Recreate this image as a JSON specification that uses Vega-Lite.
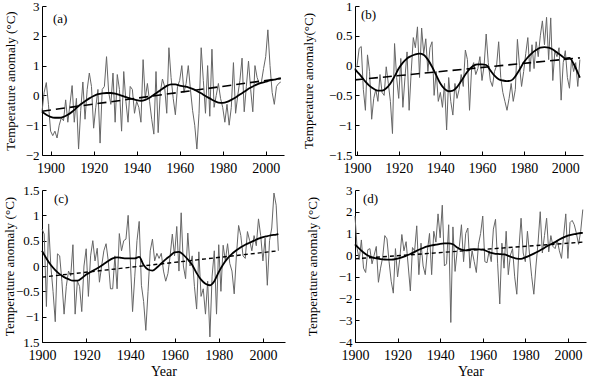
{
  "$schema": "https://vega.github.io/schema/vega-lite/v6.json",
  "padding": {"left": 2, "top": 0, "right": 5, "bottom": 0},
  "bounds": "flush",
  "columns": 2,
  "spacing": {"row": 35, "column": 70},
  "datasets": {
    "a": [
      {"year":1896,"t":-0.55,"s":-0.55,"tr":-0.53},{"year":1897,"t":0.1},{"year":1898,"t":0.43,"s":-0.65},{"year":1899,"t":-0.3},
      {"year":1900,"t":-1.2,"s":-0.72},{"year":1901,"t":-1.35},{"year":1902,"t":-1.2,"s":-0.75},{"year":1903,"t":-1.43},
      {"year":1904,"t":-1.0,"s":-0.75},{"year":1905,"t":-0.75},{"year":1906,"t":-0.85,"s":-0.72},{"year":1907,"t":-0.15},
      {"year":1908,"t":-0.9,"s":-0.65},{"year":1909,"t":-0.3},{"year":1910,"t":0.33,"s":-0.55},{"year":1911,"t":-0.9},
      {"year":1912,"t":-0.1,"s":-0.42},{"year":1913,"t":-1.8},{"year":1914,"t":-0.5,"s":-0.3},{"year":1915,"t":0.45},
      {"year":1916,"t":-0.8,"s":-0.2},{"year":1917,"t":0.2},{"year":1918,"t":0.75,"s":-0.1},{"year":1919,"t":0.3},
      {"year":1920,"t":-1.1,"s":-0.02},{"year":1921,"t":-0.4},{"year":1922,"t":0.2,"s":0.04},{"year":1923,"t":-1.6},
      {"year":1924,"t":0.2,"s":0.07},{"year":1925,"t":0.3},{"year":1926,"t":1.3,"s":0.08},{"year":1927,"t":0.1},
      {"year":1928,"t":-0.3,"s":0.08},{"year":1929,"t":0.75},{"year":1930,"t":-0.9,"s":0.06},{"year":1931,"t":0.7},
      {"year":1932,"t":0.2,"s":0.02},{"year":1933,"t":-1.2},{"year":1934,"t":0.8,"s":-0.03},{"year":1935,"t":-0.2},
      {"year":1936,"t":-0.9,"s":-0.08},{"year":1937,"t":0.3},{"year":1938,"t":0.2,"s":-0.12},{"year":1939,"t":-0.6},
      {"year":1940,"t":-0.2,"s":-0.16},{"year":1941,"t":-0.4},{"year":1942,"t":-0.9,"s":-0.18},{"year":1943,"t":1.2},
      {"year":1944,"t":-0.1,"s":-0.15},{"year":1945,"t":0.4},{"year":1946,"t":-0.2,"s":-0.08},{"year":1947,"t":-0.8},
      {"year":1948,"t":-1.3,"s":0.02},{"year":1949,"t":0.8},{"year":1950,"t":-1.25,"s":0.12},{"year":1951,"t":0.1},
      {"year":1952,"t":0.55,"s":0.22},{"year":1953,"t":0.3},{"year":1954,"t":-0.6,"s":0.32},{"year":1955,"t":1.6},
      {"year":1956,"t":0.6,"s":0.37},{"year":1957,"t":-0.1},{"year":1958,"t":-0.65,"s":0.37},{"year":1959,"t":0.3},
      {"year":1960,"t":0.5,"s":0.33},{"year":1961,"t":1.0},{"year":1962,"t":0.1,"s":0.3},{"year":1963,"t":0.4},
      {"year":1964,"t":1.0,"s":0.27},{"year":1965,"t":0.2},{"year":1966,"t":-0.5,"s":0.22},{"year":1967,"t":-1.0},
      {"year":1968,"t":-1.8,"s":0.15},{"year":1969,"t":-0.6},{"year":1970,"t":1.6,"s":0.07},{"year":1971,"t":0.5},
      {"year":1972,"t":-0.6,"s":-0.02},{"year":1973,"t":1.0},{"year":1974,"t":-0.7,"s":-0.1},{"year":1975,"t":1.55},
      {"year":1976,"t":-0.4,"s":-0.18},{"year":1977,"t":0.0},{"year":1978,"t":0.4,"s":-0.24},{"year":1979,"t":-0.1},
      {"year":1980,"t":-0.4,"s":-0.25},{"year":1981,"t":-0.9},{"year":1982,"t":-0.3,"s":-0.22},{"year":1983,"t":-1.0},
      {"year":1984,"t":-0.4,"s":-0.15},{"year":1985,"t":1.1},{"year":1986,"t":-0.6,"s":-0.07},{"year":1987,"t":0.0},
      {"year":1988,"t":0.5,"s":0.03},{"year":1989,"t":1.25},{"year":1990,"t":-0.55,"s":0.12},{"year":1991,"t":0.3},
      {"year":1992,"t":1.15,"s":0.22},{"year":1993,"t":0.2},{"year":1994,"t":-0.55,"s":0.3},{"year":1995,"t":1.0},
      {"year":1996,"t":0.6,"s":0.37},{"year":1997,"t":0.4},{"year":1998,"t":0.45,"s":0.42},{"year":1999,"t":0.9},
      {"year":2000,"t":1.3,"s":0.46},{"year":2001,"t":2.2},{"year":2002,"t":1.0,"s":0.5},{"year":2003,"t":0.1},
      {"year":2004,"t":-0.3,"s":0.53},{"year":2005,"t":0.3},{"year":2006,"t":0.4,"s":0.56},{"year":2007,"t":0.45,"s":0.57,"tr":0.57}
    ],
    "b": [
      {"year":1899,"t":-0.05,"s":-0.06,"tr":-0.24},
      {"year":1900,"t":0.0,"s":-0.1},{"year":1901,"t":0.29},{"year":1902,"t":0.32,"s":-0.18},{"year":1903,"t":-0.4},
      {"year":1904,"t":-0.75,"s":-0.27},{"year":1905,"t":0.18},{"year":1906,"t":-0.1,"s":-0.34},{"year":1907,"t":-0.9},
      {"year":1908,"t":-0.55,"s":-0.39},{"year":1909,"t":-0.4},{"year":1910,"t":-0.6,"s":-0.42},{"year":1911,"t":-0.15},
      {"year":1912,"t":-0.45,"s":-0.42},{"year":1913,"t":-0.5},{"year":1914,"t":-0.02,"s":-0.38},{"year":1915,"t":-0.3},
      {"year":1916,"t":-0.6,"s":-0.3},{"year":1917,"t":-1.14},{"year":1918,"t":0.37,"s":-0.18},{"year":1919,"t":-0.2},
      {"year":1920,"t":-0.55,"s":-0.05},{"year":1921,"t":0.12},{"year":1922,"t":-0.7,"s":0.05},{"year":1923,"t":-0.2},
      {"year":1924,"t":0.23,"s":0.12},{"year":1925,"t":-0.75},{"year":1926,"t":-0.1,"s":0.16},{"year":1927,"t":0.47},
      {"year":1928,"t":0.3,"s":0.19},{"year":1929,"t":0.65},{"year":1930,"t":-0.2,"s":0.2},{"year":1931,"t":0.63},
      {"year":1932,"t":0.2,"s":0.18},{"year":1933,"t":0.45},{"year":1934,"t":-0.1,"s":0.1},{"year":1935,"t":0.3},
      {"year":1936,"t":0.4,"s":-0.02},{"year":1937,"t":-0.5},{"year":1938,"t":-0.1,"s":-0.16},{"year":1939,"t":-0.6},
      {"year":1940,"t":-0.45,"s":-0.3},{"year":1941,"t":-0.7},{"year":1942,"t":-0.3,"s":-0.39},{"year":1943,"t":-1.08},
      {"year":1944,"t":-0.2,"s":-0.43},{"year":1945,"t":-0.6},{"year":1946,"t":-0.83,"s":-0.42},{"year":1947,"t":-0.3},
      {"year":1948,"t":-0.55,"s":-0.36},{"year":1949,"t":-0.4},{"year":1950,"t":-0.15,"s":-0.26},{"year":1951,"t":-0.35},
      {"year":1952,"t":0.26,"s":-0.15},{"year":1953,"t":0.1},{"year":1954,"t":-0.75,"s":-0.06},{"year":1955,"t":-0.05},
      {"year":1956,"t":0.05,"s":0.0},{"year":1957,"t":-0.15},{"year":1958,"t":-0.05,"s":0.02},{"year":1959,"t":0.15},
      {"year":1960,"t":-0.25,"s":0.02},{"year":1961,"t":0.0},{"year":1962,"t":0.53,"s":0.01},{"year":1963,"t":0.05},
      {"year":1964,"t":-0.25,"s":-0.08},{"year":1965,"t":-0.35},{"year":1966,"t":-0.1,"s":-0.17},{"year":1967,"t":0.0},
      {"year":1968,"t":0.4,"s":-0.23},{"year":1969,"t":-0.2},{"year":1970,"t":-0.45,"s":-0.25},{"year":1971,"t":-0.6},
      {"year":1972,"t":-0.75,"s":-0.26},{"year":1973,"t":-0.55},{"year":1974,"t":-0.3,"s":-0.25},{"year":1975,"t":-0.6},
      {"year":1976,"t":-0.4,"s":-0.18},{"year":1977,"t":0.44},{"year":1978,"t":0.0,"s":-0.07},{"year":1979,"t":-0.35},
      {"year":1980,"t":-0.1,"s":0.05},{"year":1981,"t":0.2},{"year":1982,"t":0.47,"s":0.14},{"year":1983,"t":-0.1},
      {"year":1984,"t":0.35,"s":0.21},{"year":1985,"t":-0.05},{"year":1986,"t":0.4,"s":0.26},{"year":1987,"t":0.15},
      {"year":1988,"t":0.5,"s":0.3},{"year":1989,"t":0.75},{"year":1990,"t":0.35,"s":0.31},{"year":1991,"t":0.81},
      {"year":1992,"t":0.1,"s":0.3},{"year":1993,"t":0.8},{"year":1994,"t":-0.25,"s":0.27},{"year":1995,"t":0.25},
      {"year":1996,"t":0.15,"s":0.22},{"year":1997,"t":0.3},{"year":1998,"t":-0.58,"s":0.17},{"year":1999,"t":0.05},
      {"year":2000,"t":0.25,"s":0.12},{"year":2001,"t":-0.2},{"year":2002,"t":-0.38,"s":0.13},{"year":2003,"t":0.1},
      {"year":2004,"t":-0.1,"s":0.03},{"year":2005,"t":0.05},{"year":2006,"t":-0.35,"s":-0.12},{"year":2007,"t":0.1,"s":-0.2,"tr":0.13}
    ],
    "c": [
      {"year":1900,"t":0.73,"s":0.3,"tr":-0.22},{"year":1901,"t":0.63},{"year":1902,"t":-0.8,"s":0.15},{"year":1903,"t":0.83},
      {"year":1904,"t":0.0,"s":0.02},{"year":1905,"t":-0.5},{"year":1906,"t":-1.1,"s":-0.08},{"year":1907,"t":0.24},
      {"year":1908,"t":0.2,"s":-0.16},{"year":1909,"t":-0.3},{"year":1910,"t":-0.95,"s":-0.22},{"year":1911,"t":-0.4},
      {"year":1912,"t":-0.1,"s":-0.26},{"year":1913,"t":-0.2},{"year":1914,"t":0.42,"s":-0.29},{"year":1915,"t":-0.95},
      {"year":1916,"t":-0.3,"s":-0.29},{"year":1917,"t":-0.4},{"year":1918,"t":-0.9,"s":-0.24},{"year":1919,"t":0.0},
      {"year":1920,"t":0.34,"s":-0.17},{"year":1921,"t":-0.6},{"year":1922,"t":0.2,"s":-0.12},{"year":1923,"t":0.5},
      {"year":1924,"t":0.1,"s":-0.07},{"year":1925,"t":0.35},{"year":1926,"t":-0.32,"s":-0.02},{"year":1927,"t":0.0},
      {"year":1928,"t":0.3,"s":0.04},{"year":1929,"t":0.44},{"year":1930,"t":0.1,"s":0.1},{"year":1931,"t":-0.45},
      {"year":1932,"t":-0.45,"s":0.15},{"year":1933,"t":0.2},{"year":1934,"t":-0.45,"s":0.17},{"year":1935,"t":0.64},
      {"year":1936,"t":0.3,"s":0.16},{"year":1937,"t":0.5},{"year":1938,"t":0.53,"s":0.15},{"year":1939,"t":1.0},
      {"year":1940,"t":0.1,"s":0.15},{"year":1941,"t":-0.9},{"year":1942,"t":-0.2,"s":0.15},{"year":1943,"t":0.5},
      {"year":1944,"t":0.88,"s":0.18},{"year":1945,"t":-0.38},{"year":1946,"t":-0.7,"s":0.02},{"year":1947,"t":-1.27},
      {"year":1948,"t":-0.5,"s":-0.07},{"year":1949,"t":0.3},{"year":1950,"t":0.53,"s":-0.09},{"year":1951,"t":0.1},
      {"year":1952,"t":0.25,"s":-0.03},{"year":1953,"t":0.15},{"year":1954,"t":0.25,"s":0.05},{"year":1955,"t":-0.1},
      {"year":1956,"t":-0.3,"s":0.13},{"year":1957,"t":-0.15},{"year":1958,"t":0.2,"s":0.2},{"year":1959,"t":0.63},
      {"year":1960,"t":0.2,"s":0.27},{"year":1961,"t":0.78},{"year":1962,"t":-0.1,"s":0.28},{"year":1963,"t":1.05},
      {"year":1964,"t":0.0,"s":0.22},{"year":1965,"t":-0.25},{"year":1966,"t":0.65,"s":0.13},{"year":1967,"t":0.0},
      {"year":1968,"t":0.2,"s":0.02},{"year":1969,"t":-0.4},{"year":1970,"t":-0.85,"s":-0.14},{"year":1971,"t":0.28},
      {"year":1972,"t":-0.6,"s":-0.27},{"year":1973,"t":-0.45},{"year":1974,"t":-0.95,"s":-0.35},{"year":1975,"t":-0.3},
      {"year":1976,"t":-1.4,"s":-0.38},{"year":1977,"t":-0.2},{"year":1978,"t":0.3,"s":-0.3},{"year":1979,"t":-0.95},
      {"year":1980,"t":0.42,"s":-0.12},{"year":1981,"t":-0.5},{"year":1982,"t":0.41,"s":0.03},{"year":1983,"t":0.1},
      {"year":1984,"t":0.44,"s":0.15},{"year":1985,"t":0.05},{"year":1986,"t":-0.1,"s":0.24},{"year":1987,"t":-0.55},
      {"year":1988,"t":0.2,"s":0.31},{"year":1989,"t":0.8},{"year":1990,"t":0.6,"s":0.37},{"year":1991,"t":0.2},
      {"year":1992,"t":0.15,"s":0.42},{"year":1993,"t":0.68},{"year":1994,"t":0.5,"s":0.46},{"year":1995,"t":0.3},
      {"year":1996,"t":0.6,"s":0.5},{"year":1997,"t":0.4},{"year":1998,"t":0.93,"s":0.54},{"year":1999,"t":0.6},
      {"year":2000,"t":0.1,"s":0.57},{"year":2001,"t":0.55},{"year":2002,"t":-0.38,"s":0.59},{"year":2003,"t":0.5},
      {"year":2004,"t":0.75,"s":0.61},{"year":2005,"t":1.44},{"year":2006,"t":1.2,"s":0.62},{"year":2007,"t":0.3,"s":0.63,"tr":0.3}
    ],
    "d": [
      {"year":1900,"t":1.8,"s":0.5,"tr":-0.17},{"year":1901,"t":0.3},{"year":1902,"t":-0.2,"s":0.3},{"year":1903,"t":0.7},
      {"year":1904,"t":-0.6,"s":0.12},{"year":1905,"t":-0.8},{"year":1906,"t":0.25,"s":-0.02},{"year":1907,"t":0.3},
      {"year":1908,"t":-0.4,"s":-0.1},{"year":1909,"t":0.0},{"year":1910,"t":0.4,"s":-0.15},{"year":1911,"t":-1.25},
      {"year":1912,"t":-0.6,"s":-0.18},{"year":1913,"t":-0.1},{"year":1914,"t":0.9,"s":-0.2},{"year":1915,"t":0.75},
      {"year":1916,"t":-0.3,"s":-0.21},{"year":1917,"t":-1.2},{"year":1918,"t":-1.75,"s":-0.2},{"year":1919,"t":0.3},
      {"year":1920,"t":-1.0,"s":-0.16},{"year":1921,"t":-0.2},{"year":1922,"t":0.95,"s":-0.1},{"year":1923,"t":0.2},
      {"year":1924,"t":0.62,"s":-0.03},{"year":1925,"t":-0.5},{"year":1926,"t":-1.65,"s":0.05},{"year":1927,"t":0.35},
      {"year":1928,"t":0.2,"s":0.15},{"year":1929,"t":1.35},{"year":1930,"t":-0.9,"s":0.25},{"year":1931,"t":0.55},
      {"year":1932,"t":-0.5,"s":0.33},{"year":1933,"t":-0.9},{"year":1934,"t":0.2,"s":0.4},{"year":1935,"t":1.0},
      {"year":1936,"t":-0.9,"s":0.45},{"year":1937,"t":1.1},{"year":1938,"t":0.6,"s":0.48},{"year":1939,"t":1.9},
      {"year":1940,"t":0.8,"s":0.52},{"year":1941,"t":2.3},{"year":1942,"t":-0.5,"s":0.54},{"year":1943,"t":-0.4},
      {"year":1944,"t":1.4,"s":0.54},{"year":1945,"t":-3.1},{"year":1946,"t":1.3,"s":0.5},{"year":1947,"t":-0.75},
      {"year":1948,"t":0.2,"s":0.35},{"year":1949,"t":0.4},{"year":1950,"t":1.4,"s":0.25},{"year":1951,"t":-0.3},
      {"year":1952,"t":1.0,"s":0.22},{"year":1953,"t":1.25},{"year":1954,"t":-0.6,"s":0.26},{"year":1955,"t":0.2},
      {"year":1956,"t":-0.3,"s":0.28},{"year":1957,"t":-0.8},{"year":1958,"t":0.5,"s":0.27},{"year":1959,"t":1.0},
      {"year":1960,"t":1.8,"s":0.25},{"year":1961,"t":-0.3},{"year":1962,"t":-0.35,"s":0.18},{"year":1963,"t":0.2},
      {"year":1964,"t":-0.3,"s":0.1},{"year":1965,"t":1.2},{"year":1966,"t":1.65,"s":0.06},{"year":1967,"t":-0.4},
      {"year":1968,"t":-2.25,"s":0.05},{"year":1969,"t":0.55},{"year":1970,"t":-0.6,"s":0.03},{"year":1971,"t":1.1},
      {"year":1972,"t":-0.9,"s":-0.03},{"year":1973,"t":0.0},{"year":1974,"t":0.3,"s":-0.1},{"year":1975,"t":-1.0},
      {"year":1976,"t":-1.8,"s":-0.16},{"year":1977,"t":0.3},{"year":1978,"t":1.7,"s":-0.17},{"year":1979,"t":0.1},
      {"year":1980,"t":-0.3,"s":-0.1},{"year":1981,"t":1.1},{"year":1982,"t":0.0,"s":-0.02},{"year":1983,"t":-1.0},
      {"year":1984,"t":-1.8,"s":0.07},{"year":1985,"t":-0.5},{"year":1986,"t":0.6,"s":0.17},{"year":1987,"t":2.0},
      {"year":1988,"t":0.1,"s":0.28},{"year":1989,"t":0.9},{"year":1990,"t":1.7,"s":0.4},{"year":1991,"t":0.15},
      {"year":1992,"t":0.9,"s":0.5},{"year":1993,"t":0.4},{"year":1994,"t":0.3,"s":0.6},{"year":1995,"t":0.7},
      {"year":1996,"t":0.2,"s":0.72},{"year":1997,"t":-0.15},{"year":1998,"t":0.9,"s":0.82},{"year":1999,"t":1.9},
      {"year":2000,"t":-0.15,"s":0.9},{"year":2001,"t":1.5},{"year":2002,"t":1.6,"s":0.95},{"year":2003,"t":1.4},
      {"year":2004,"t":1.0,"s":0.98},{"year":2005,"t":0.5},{"year":2006,"t":1.1,"s":1.02},{"year":2007,"t":2.1,"s":1.03,"tr":0.6}
    ]
  },
  "concat": [
    {
      "width": 242, "height": 149,
      "data": {"name": "a"},
      "title": {"text": "(a)", "dx": 11, "dy": 30},
      "encoding": {
        "x": {"field": "year", "type": "quantitative", "scale": {"domain": [1896, 2008.5], "nice": false, "zero": false},
              "axis": {"values": [1900,1920,1940,1960,1980,2000], "format": "d", "title": null}},
        "y": {"field": "value", "type": "quantitative", "scale": {"domain": [-2, 3], "nice": false, "zero": false},
              "axis": {"values": [-2,-1,0,1,2,3], "format": ".1~f", "title": "Temperature anomaly (°C)", "titleX": -25}}
      },
      "layer": [
        {"transform": [{"fold": ["t","s","tr"]}, {"filter": "datum.key == 't' && isValid(datum.value)"}],
         "mark": {"type": "line", "color": "#666666", "strokeWidth": 1}},
        {"transform": [{"fold": ["t","s","tr"]}, {"filter": "datum.key == 's' && isValid(datum.value)"}],
         "mark": {"type": "line", "color": "#000000", "strokeWidth": 1.8, "interpolate": "monotone"}},
        {"transform": [{"fold": ["t","s","tr"]}, {"filter": "datum.key == 'tr' && isValid(datum.value)"}],
         "mark": {"type": "line", "color": "#000000", "strokeWidth": 1.6, "strokeDash": [9, 5]}}
      ]
    },
    {
      "width": 228, "height": 149,
      "data": {"name": "b"},
      "title": {"text": "(b)", "dx": 6, "dy": 26},
      "encoding": {
        "x": {"field": "year", "type": "quantitative", "scale": {"domain": [1899, 2008.5], "nice": false, "zero": false},
              "axis": {"values": [1900,1920,1940,1960,1980,2000], "format": "d", "title": null}},
        "y": {"field": "value", "type": "quantitative", "scale": {"domain": [-1.5, 1], "nice": false, "zero": false},
              "axis": {"values": [-1.5,-1,-0.5,0,0.5,1], "format": ".1~f", "title": "Temperature anomaly(°C)", "titleX": -40}}
      },
      "layer": [
        {"transform": [{"fold": ["t","s","tr"]}, {"filter": "datum.key == 't' && isValid(datum.value)"}],
         "mark": {"type": "line", "color": "#666666", "strokeWidth": 1}},
        {"transform": [{"fold": ["t","s","tr"]}, {"filter": "datum.key == 's' && isValid(datum.value)"}],
         "mark": {"type": "line", "color": "#000000", "strokeWidth": 1.8, "interpolate": "monotone"}},
        {"transform": [{"fold": ["t","s","tr"]}, {"filter": "datum.key == 'tr' && isValid(datum.value)"}],
         "mark": {"type": "line", "color": "#000000", "strokeWidth": 1.6, "strokeDash": [9, 5]}}
      ]
    },
    {
      "width": 243, "height": 152,
      "data": {"name": "c"},
      "title": {"text": "(c)", "dx": 12, "dy": 26},
      "encoding": {
        "x": {"field": "year", "type": "quantitative", "scale": {"domain": [1900, 2010], "nice": false, "zero": false},
              "axis": {"values": [1900,1920,1940,1960,1980,2000], "format": "d", "title": "Year"}},
        "y": {"field": "value", "type": "quantitative", "scale": {"domain": [-1.5, 1.5], "nice": false, "zero": false},
              "axis": {"values": [-1.5,-1,-0.5,0,0.5,1,1.5], "format": ".1~f", "labelExpr": "datum.value == -1.5 ? '1.5' : datum.label", "title": "Temperature anomaly (°C)", "titleX": -26}}
      },
      "layer": [
        {"transform": [{"fold": ["t","s","tr"]}, {"filter": "datum.key == 't' && isValid(datum.value)"}],
         "mark": {"type": "line", "color": "#666666", "strokeWidth": 1}},
        {"transform": [{"fold": ["t","s","tr"]}, {"filter": "datum.key == 's' && isValid(datum.value)"}],
         "mark": {"type": "line", "color": "#000000", "strokeWidth": 1.8, "interpolate": "monotone"}},
        {"transform": [{"fold": ["t","s","tr"]}, {"filter": "datum.key == 'tr' && isValid(datum.value)"}],
         "mark": {"type": "line", "color": "#000000", "strokeWidth": 1.4, "strokeDash": [4, 3]}}
      ]
    },
    {
      "width": 231, "height": 152,
      "data": {"name": "d"},
      "title": {"text": "(d)", "dx": 8, "dy": 26},
      "encoding": {
        "x": {"field": "year", "type": "quantitative", "scale": {"domain": [1900, 2008.5], "nice": false, "zero": false},
              "axis": {"values": [1900,1920,1940,1960,1980,2000], "format": "d", "title": "Year"}},
        "y": {"field": "value", "type": "quantitative", "scale": {"domain": [-4, 3], "nice": false, "zero": false},
              "axis": {"values": [-4,-3,-2,-1,0,1,2,3], "format": ".1~f", "title": "Temperature anomaly (°C)", "titleX": -36}}
      },
      "layer": [
        {"transform": [{"fold": ["t","s","tr"]}, {"filter": "datum.key == 't' && isValid(datum.value)"}],
         "mark": {"type": "line", "color": "#666666", "strokeWidth": 1}},
        {"transform": [{"fold": ["t","s","tr"]}, {"filter": "datum.key == 's' && isValid(datum.value)"}],
         "mark": {"type": "line", "color": "#000000", "strokeWidth": 1.8, "interpolate": "monotone"}},
        {"transform": [{"fold": ["t","s","tr"]}, {"filter": "datum.key == 'tr' && isValid(datum.value)"}],
         "mark": {"type": "line", "color": "#000000", "strokeWidth": 1.4, "strokeDash": [4, 3]}}
      ]
    }
  ],
  "config": {
    "view": {"stroke": null},
    "title": {"anchor": "start", "frame": "group", "font": "Liberation Serif", "fontSize": 13, "fontWeight": "normal", "color": "#000000", "offset": 0},
    "axis": {
      "grid": false, "domainColor": "#000000", "tickColor": "#000000", "labelColor": "#000000", "titleColor": "#000000",
      "labelFont": "Liberation Serif", "titleFont": "Liberation Serif", "labelFontSize": 13, "titleFontSize": 13,
      "titleFontWeight": "normal", "tickSize": -4, "labelPadding": 7, "labelFlush": false, "labelOverlap": false,
      "domainWidth": 1, "tickWidth": 1
    },
    "axisX": {"labelFontSize": 14, "titleFontSize": 14, "labelPadding": 10, "titlePadding": 2}
  }
}
